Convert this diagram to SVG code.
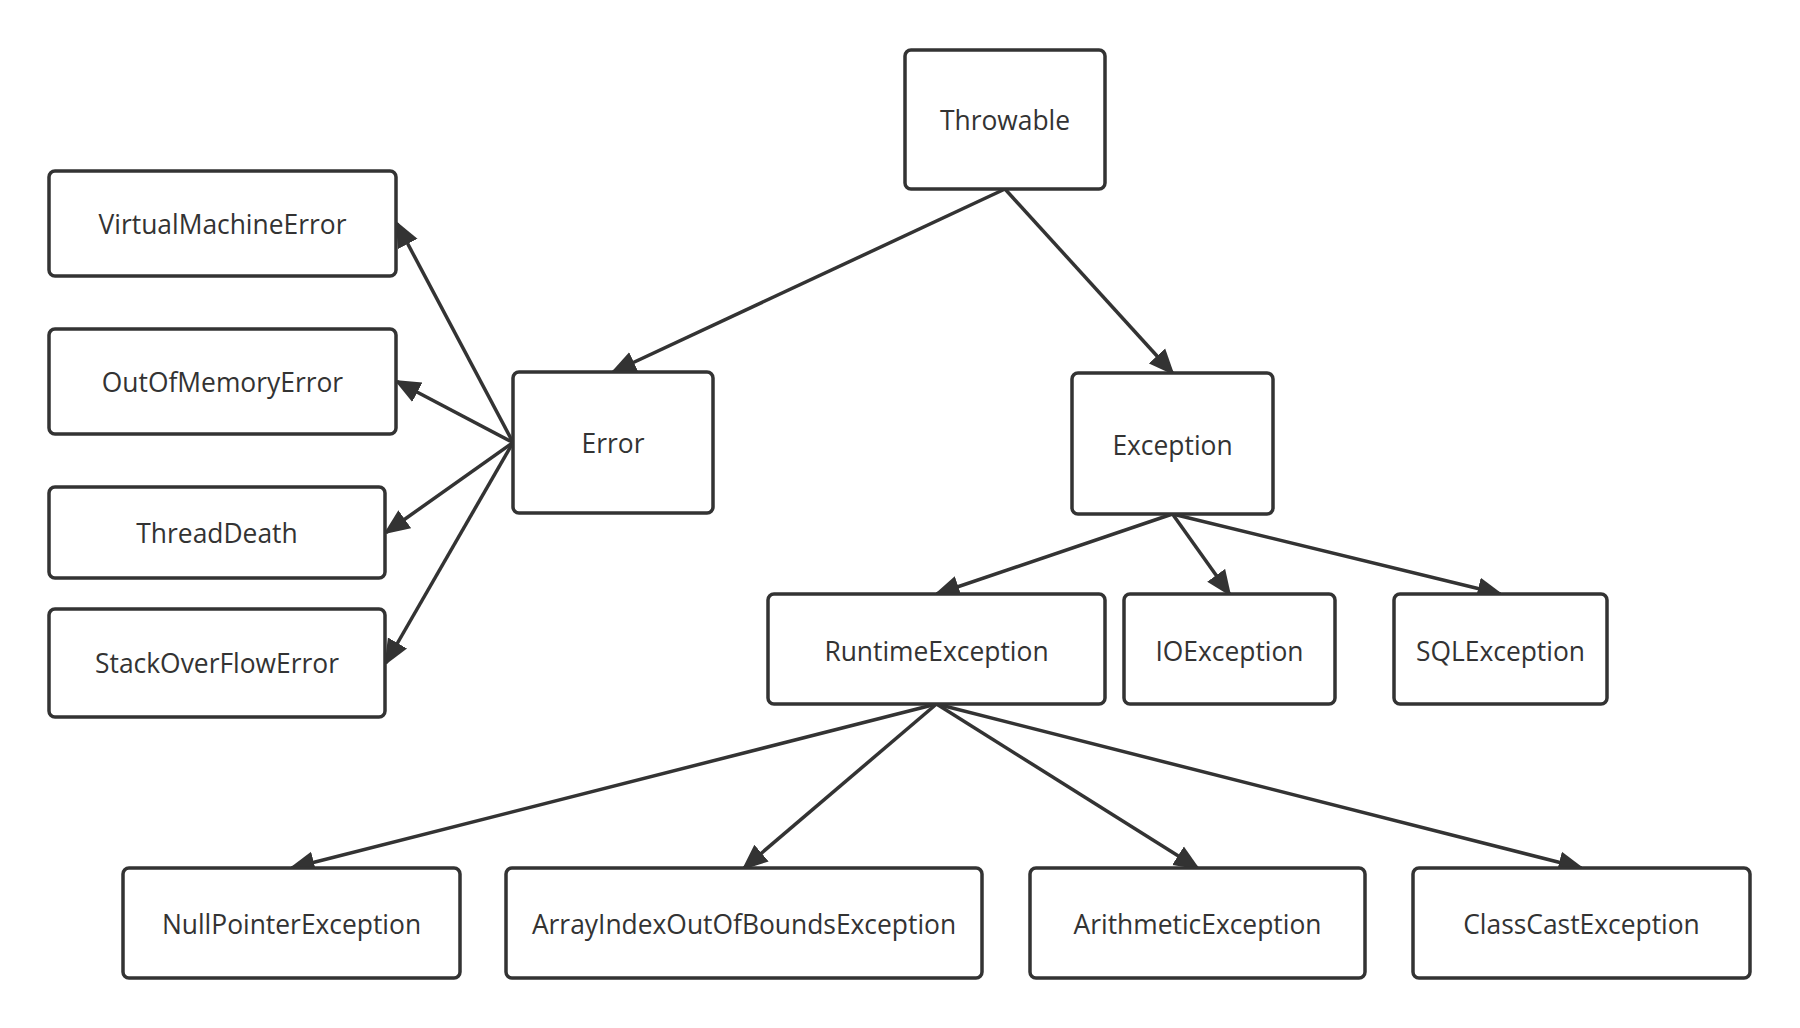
<svg xmlns="http://www.w3.org/2000/svg" width="1800" height="1028" viewBox="0 0 1800 1028">
<style>
.box{fill:#fff;stroke:#333;stroke-width:3.5}
.lbl{font-family:"Open Sans","Noto Sans",sans-serif;font-size:26.4px;fill:#333;text-anchor:middle;dominant-baseline:central}
.edge{fill:none;stroke:#333;stroke-width:3.5}
</style>
<defs>
<marker id="arr" markerUnits="userSpaceOnUse" markerWidth="26" markerHeight="24" viewBox="0 0 26 24" refX="23" refY="12" orient="auto">
<path d="M0,1 L26,12 L0,23 z" fill="#333"/>
</marker>
</defs>
<rect width="1800" height="1028" fill="#fff"/>
<g id="connectors">
<line class="edge" x1="1005" y1="189" x2="613" y2="372" marker-end="url(#arr)"/>
<line class="edge" x1="1005" y1="189" x2="1172.5" y2="373" marker-end="url(#arr)"/>
<line class="edge" x1="513" y1="442.5" x2="397" y2="223.5" marker-end="url(#arr)"/>
<line class="edge" x1="513" y1="442.5" x2="397" y2="381.5" marker-end="url(#arr)"/>
<line class="edge" x1="513" y1="442.5" x2="386" y2="532.5" marker-end="url(#arr)"/>
<line class="edge" x1="513" y1="442.5" x2="386" y2="663" marker-end="url(#arr)"/>
<line class="edge" x1="1172.5" y1="514" x2="936.5" y2="594" marker-end="url(#arr)"/>
<line class="edge" x1="1172.5" y1="514" x2="1229.5" y2="594" marker-end="url(#arr)"/>
<line class="edge" x1="1172.5" y1="514" x2="1500.5" y2="594" marker-end="url(#arr)"/>
<line class="edge" x1="936.5" y1="704" x2="291.5" y2="868" marker-end="url(#arr)"/>
<line class="edge" x1="936.5" y1="704" x2="744" y2="868" marker-end="url(#arr)"/>
<line class="edge" x1="936.5" y1="704" x2="1197.5" y2="868" marker-end="url(#arr)"/>
<line class="edge" x1="936.5" y1="704" x2="1581.5" y2="868" marker-end="url(#arr)"/>
</g>
<g id="throwable"><rect class="box" x="905" y="50" width="200" height="139" rx="6"/><text class="lbl" x="1005" y="120">Throwable</text></g>
<g id="vme"><rect class="box" x="49" y="171" width="347" height="105" rx="6"/><text class="lbl" x="222.5" y="224">VirtualMachineError</text></g>
<g id="oom"><rect class="box" x="49" y="329" width="347" height="105" rx="6"/><text class="lbl" x="222.5" y="382">OutOfMemoryError</text></g>
<g id="threaddeath"><rect class="box" x="49" y="487" width="336" height="91" rx="6"/><text class="lbl" x="217" y="533">ThreadDeath</text></g>
<g id="sof"><rect class="box" x="49" y="609" width="336" height="108" rx="6"/><text class="lbl" x="217" y="663">StackOverFlowError</text></g>
<g id="error"><rect class="box" x="513" y="372" width="200" height="141" rx="6"/><text class="lbl" x="613" y="443">Error</text></g>
<g id="exception"><rect class="box" x="1072" y="373" width="201" height="141" rx="6"/><text class="lbl" x="1172.5" y="445">Exception</text></g>
<g id="runtime"><rect class="box" x="768" y="594" width="337" height="110" rx="6"/><text class="lbl" x="936.5" y="651">RuntimeException</text></g>
<g id="ioexception"><rect class="box" x="1124" y="594" width="211" height="110" rx="6"/><text class="lbl" x="1229.5" y="651">IOException</text></g>
<g id="sqlexception"><rect class="box" x="1394" y="594" width="213" height="110" rx="6"/><text class="lbl" x="1500.5" y="651">SQLException</text></g>
<g id="npe"><rect class="box" x="123" y="868" width="337" height="110" rx="6"/><text class="lbl" x="291.5" y="924">NullPointerException</text></g>
<g id="aioobe"><rect class="box" x="506" y="868" width="476" height="110" rx="6"/><text class="lbl" x="744" y="924">ArrayIndexOutOfBoundsException</text></g>
<g id="arith"><rect class="box" x="1030" y="868" width="335" height="110" rx="6"/><text class="lbl" x="1197.5" y="924">ArithmeticException</text></g>
<g id="cce"><rect class="box" x="1413" y="868" width="337" height="110" rx="6"/><text class="lbl" x="1581.5" y="924">ClassCastException</text></g>
</svg>
